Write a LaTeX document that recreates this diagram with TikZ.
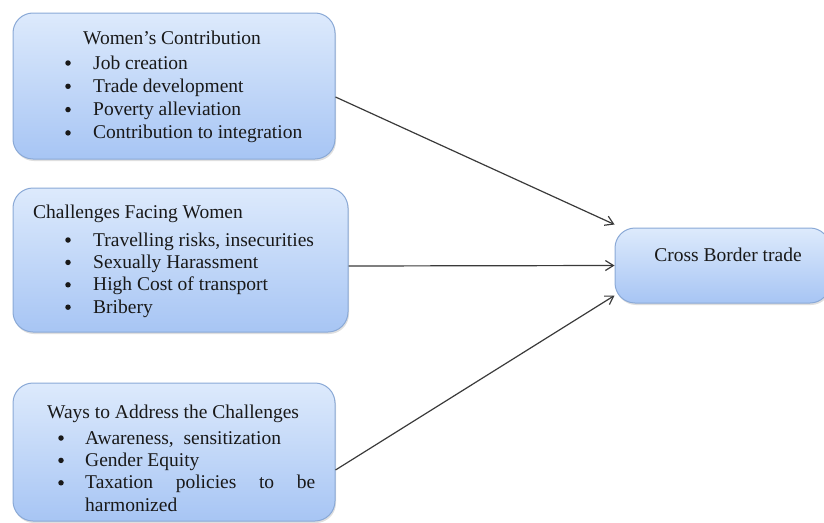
\documentclass[tikz,border=0pt]{standalone}
\usepackage{fontspec}
\setmainfont{Liberation Serif}
\usetikzlibrary{
  positioning,shadows,arrows.meta
}
\definecolor{boxtop}{HTML}{DDEAFC}
\definecolor{boxbot}{HTML}{A7C5F4}
\definecolor{boxline}{HTML}{8AA9D6}
\definecolor{arrline}{HTML}{3A3A3A}
\tikzset{
  panel/.style={draw=boxline,line width=1pt,rounded corners=20pt,
    top color=boxtop,bottom color=boxbot,
    drop shadow={opacity=0.25,shadow xshift=1pt,shadow yshift=-2pt}},
  txt/.style={inner sep=0pt,anchor=base west,text=black!90,
    font=\fontsize{19.5}{23}\selectfont},
  dot/.style={circle,fill=black!90,inner sep=0pt,minimum size=5.5pt},
  link/.style={draw=arrline,line width=1.2pt,-{Straight Barb[length=8pt,width=10pt]}}
}

\begin{document}
\begin{tikzpicture}[x=1pt,y=-1pt]
\useasboundingbox (0,0) rectangle (824,522);

\node[panel,minimum width=322pt,minimum height=146pt] (contrib) at (174,86) {};
\node[panel,minimum width=335pt,minimum height=144pt] (challenges) at (180.5,260) {};
\node[panel,minimum width=322pt,minimum height=138pt] (ways) at (174,452) {};
\node[panel,minimum width=215pt,minimum height=75pt] (cbt) at (722.5,265.5) {};

\node[txt] (contribhead) at (83,44) {Women's Contribution};
\foreach \item [count=\i] in {Job creation,Trade development,Poverty alleviation,Contribution to integration}
{
  \node[dot] (cdot\i) at (68,63+23.3*\i-23.3) {};
  \node[txt] (citem\i) at (93,69+23.3*\i-23.3) {\item};
}

\node[txt] (challhead) at (33,218) {Challenges Facing Women};
\foreach \item [count=\i] in {{Travelling risks, insecurities},Sexually Harassment,High Cost of transport,Bribery}
{
  \node[dot] (hdot\i) at (68,240+22.4*\i-22.4) {};
  \node[txt] (hitem\i) at (93,246+22.4*\i-22.4) {\item};
}

\node[txt] (wayshead) at (47,418) {Ways to Address the Challenges};
\foreach \item [count=\i] in {{Awareness,\ \ sensitization},Gender Equity,{\makebox[230pt][s]{Taxation policies to be}}}
{
  \node[dot] (wdot\i) at (61,438+22.4*\i-22.4) {};
  \node[txt] (witem\i) at (85,444+22.4*\i-22.4) {\item};
}
\node[txt] (witem4) at (85,511) {harmonized};

\node[txt,anchor=base] (cbtlabel) at (728,261) {Cross Border trade};

\draw[link] ([yshift=-11pt]contrib.east) -- ([yshift=41pt]cbt.west);
\draw[link] ([yshift=-6pt]challenges.east) -- (cbt.west);
\draw[link] ([yshift=-18pt]ways.east) -- ([yshift=-30pt]cbt.west);
\end{tikzpicture}
\end{document}
